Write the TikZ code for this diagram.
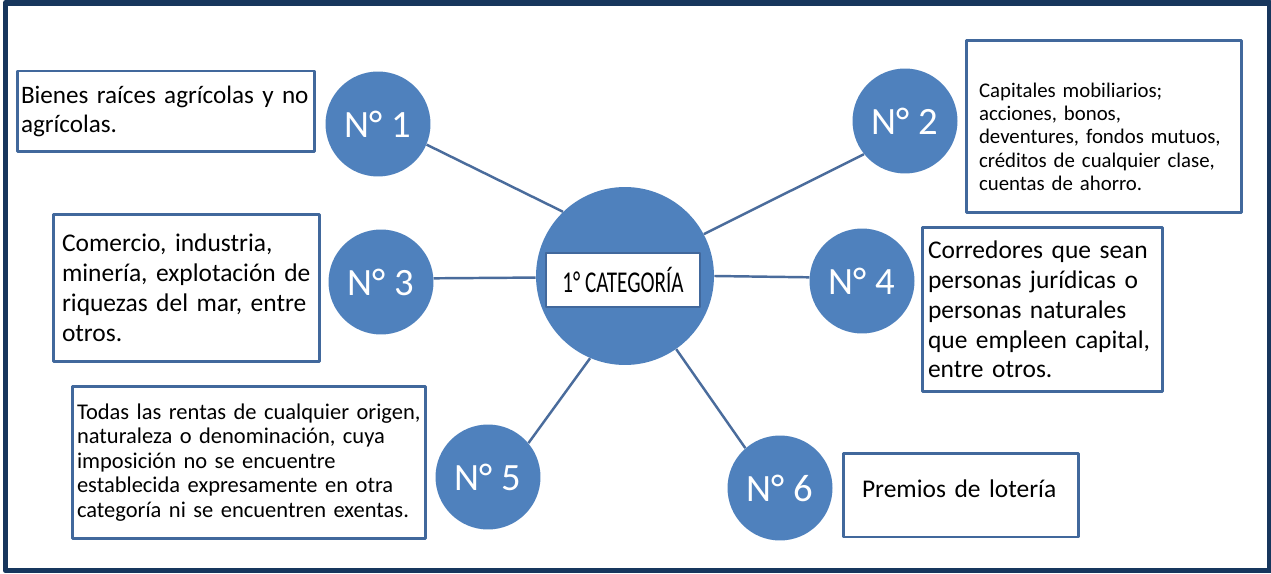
\documentclass[tikz,border=0pt]{standalone}
\usepackage{fontspec}
\setmainfont{Carlito}
\newfontfamily\narrowfont[FakeStretch=0.7]{Carlito}
\definecolor{circblue}{HTML}{4F81BD}
\definecolor{edgeblue}{HTML}{41689C}
\definecolor{linkblue}{HTML}{4A6C9C}
\definecolor{framenavy}{HTML}{17365D}
\tikzset{
  num/.style={circle,fill=circblue,minimum size=2.1cm,inner sep=0pt,text=white,font=\fontsize{22}{26}\selectfont},
  txtbox/.style={draw=edgeblue,line width=1.7pt,fill=white,align=left,inner ysep=0pt},
  bigtxt/.style={font=\fontsize{14.5}{17}\selectfont},
  link/.style={draw=linkblue,line width=1.4pt}
}
\begin{document}
\begin{tikzpicture}[x=0.02cm,y=-0.02cm,line join=round]
			\fill[white] (0,0) rectangle (1271,574);
			\useasboundingbox (0,0) rectangle (1271,574);
			\draw[framenavy,line width=3.4pt] (5.5,3) rectangle (1270,570.5);
			\node[circle,fill=circblue,minimum size=3.56cm,inner sep=0pt] (c0) at (625,276) {};
			\foreach \n/\x/\y in {1/378/124,2/905/121,3/381/282,4/862/281,5/488/477,6/780/488}
			{
				\node[num] (c\n) at (\x,\y) {N° \n};
			}
			\foreach \n/\a/\b in {1/134/337,2/28/219,3/181/4,4/0/176,5/247/40,6/305/131}
			{
				\draw[link] (c0.\a) -- (c\n.\b);
			}
			\node[draw=edgeblue,line width=1.5pt,fill=white,minimum width=3.08cm,minimum height=1.08cm,font=\narrowfont\fontsize{17.2}{20}\selectfont] (lbl) at (623,280) {1° CATEGORÍA};
			\node[txtbox,font=\fontsize{14.3}{17}\selectfont,text width=5.8cm,inner xsep=0.08cm,minimum height=1.62cm] (b1) at (166,111.5)
				{Bienes raíces agrícolas y no\\agrícolas.};
			\node[txtbox,font=\fontsize{11.85}{13.3}\selectfont,text width=5.0cm,inner xsep=0.26cm,minimum height=3.46cm] (b2) at (1104,126.5)
				{\rule{0pt}{20pt}Capitales mobiliarios;\\acciones, bonos,\\deventures, fondos mutuos,\\créditos de cualquier clase,\\cuentas de ahorro.};
			\node[txtbox,bigtxt,text width=4.98cm,inner xsep=0.18cm,minimum height=2.96cm] (b3) at (186.5,288)
				{Comercio, industria,\\minería, explotación de\\riquezas del mar, entre\\otros.};
			\node[txtbox,bigtxt,text width=4.58cm,inner xsep=0.12cm,minimum height=3.3cm] (b4) at (1042.5,309.5)
				{Corredores que sean\\personas jurídicas o\\personas naturales\\que empleen capital,\\entre otros.};
			\node[txtbox,font=\fontsize{12.8}{14}\selectfont,text width=6.88cm,inner xsep=0.1cm,minimum height=3.06cm] (b5) at (249,462.5)
				{Todas las rentas de cualquier origen,\\naturaleza o denominación, cuya\\imposición no se encuentre\\establecida expresamente en otra\\categoría ni se encuentren exentas.};
			\node[txtbox,bigtxt,text width=3.96cm,inner xsep=0.38cm,minimum height=1.68cm] (b6) at (961,495)
				{Premios de lotería\rule[-7pt]{0pt}{0pt}};
		\end{tikzpicture}
\end{document}
